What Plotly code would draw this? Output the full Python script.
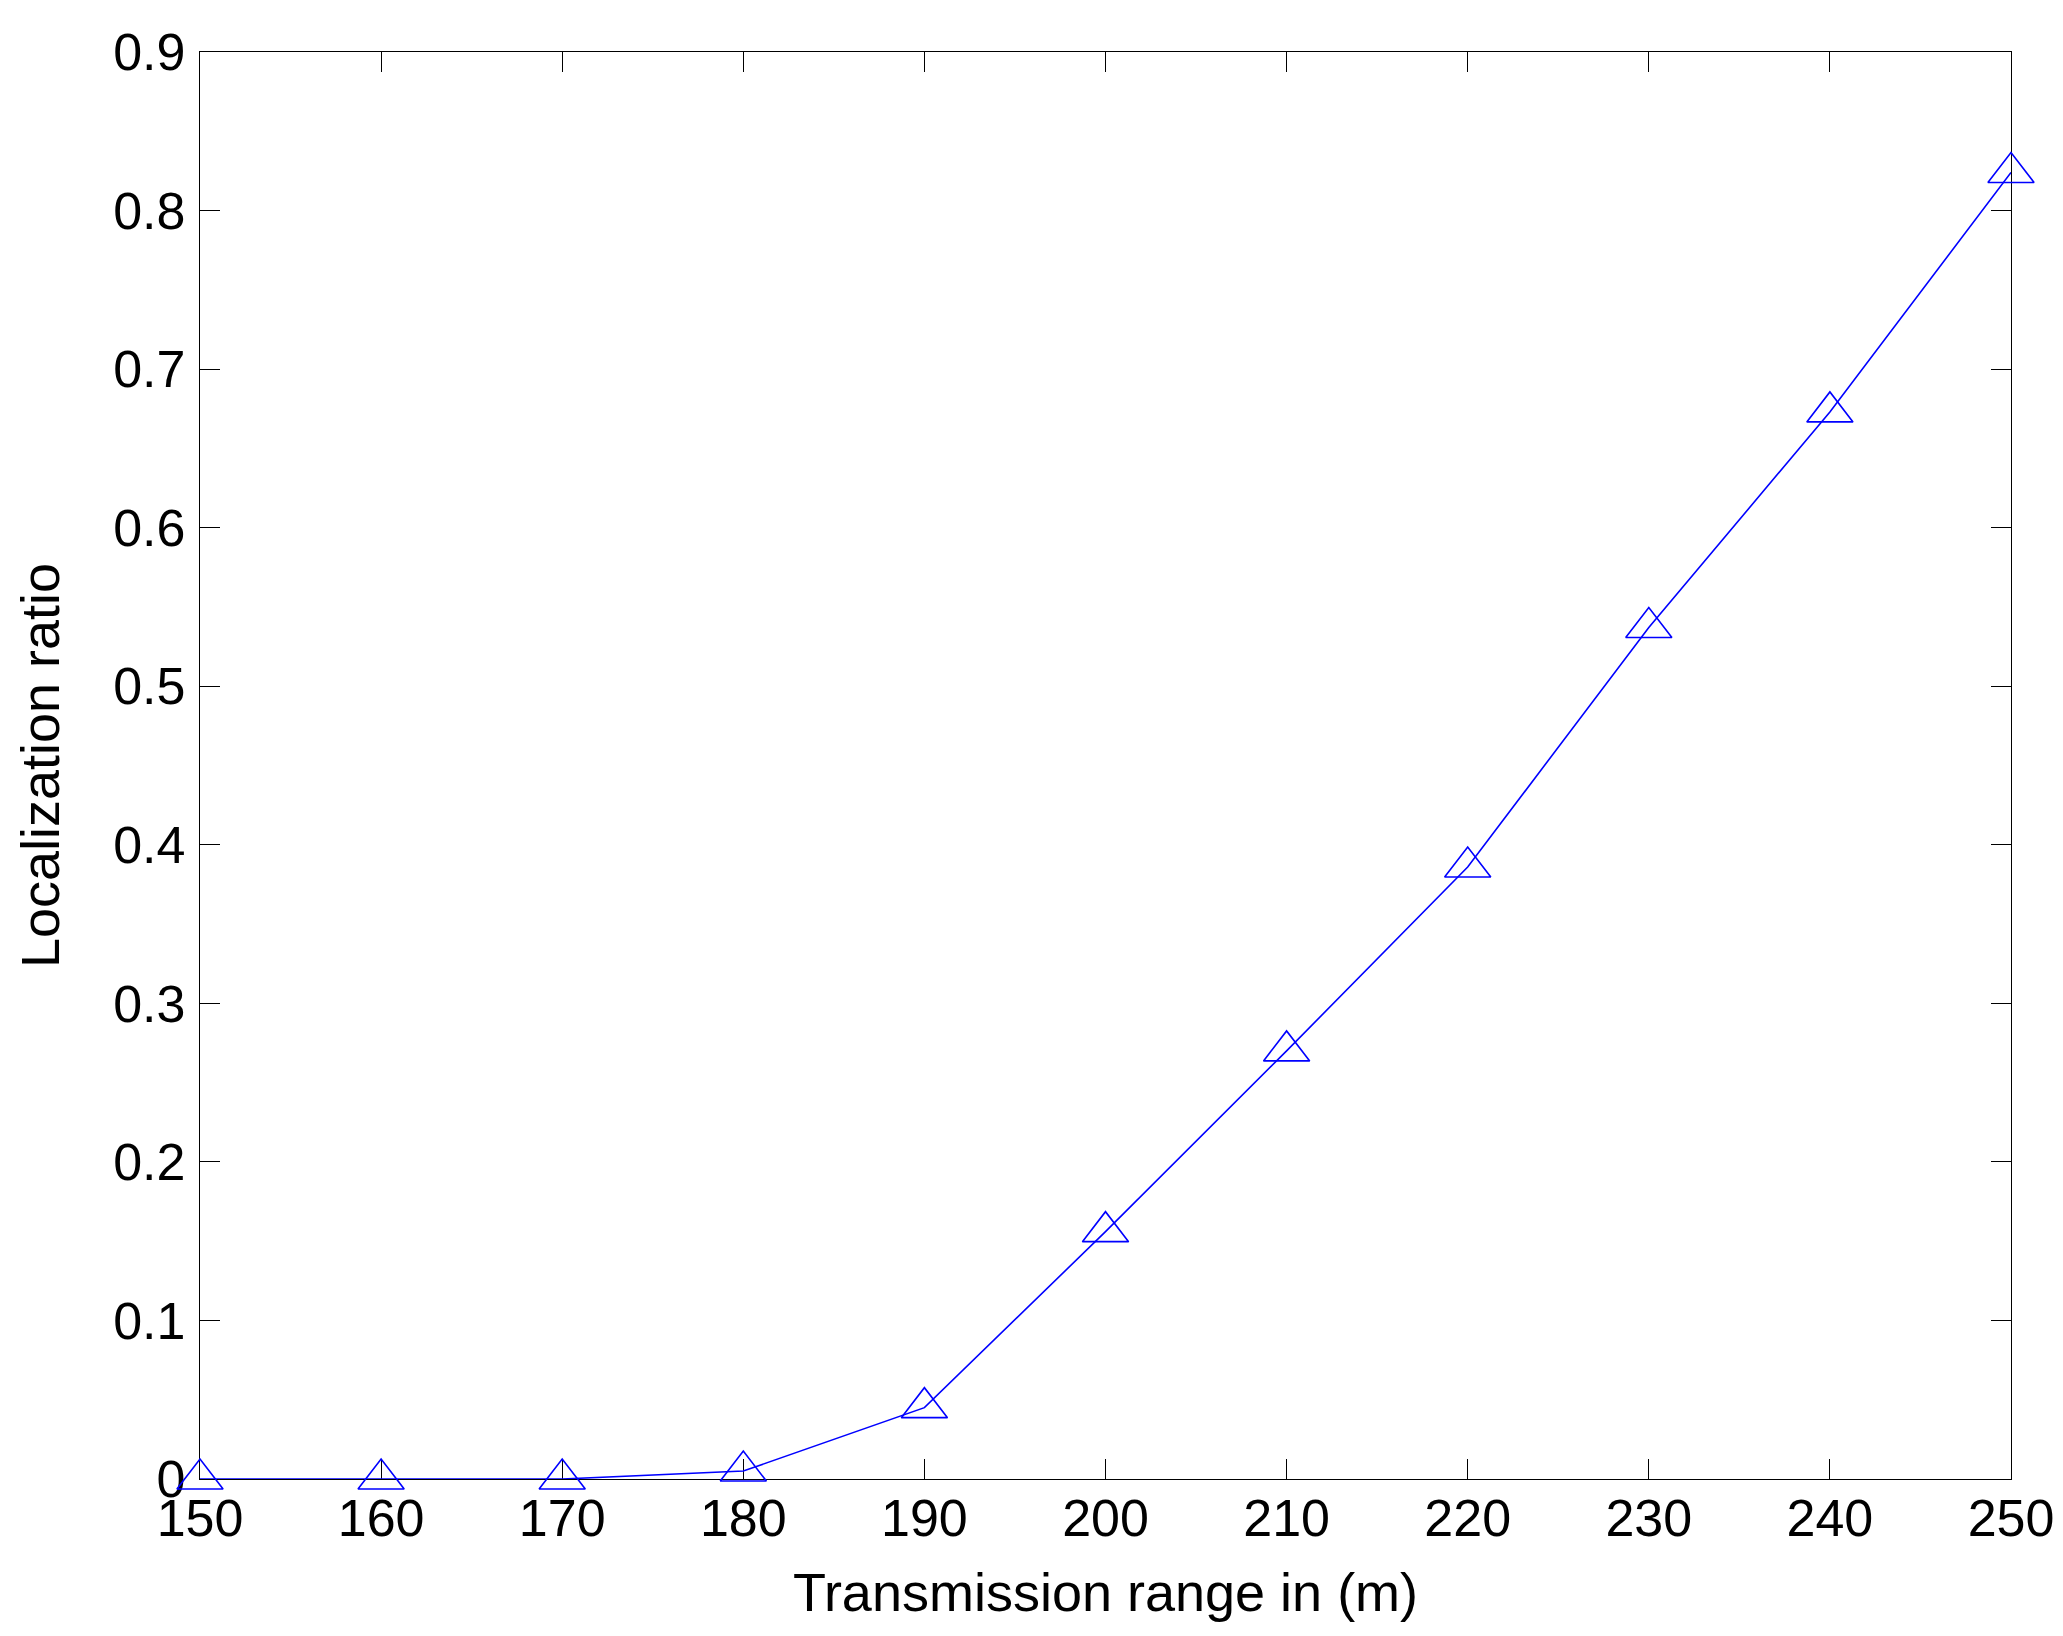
import plotly.graph_objects as go

transmission_range = [150, 160, 170, 180, 190, 200, 210, 220, 230, 240, 250]
localization_ratio = [0.0, 0.0, 0.0, 0.005, 0.045, 0.156, 0.270, 0.386, 0.537, 0.673, 0.824]
y_ticks = [0, 0.1, 0.2, 0.3, 0.4, 0.5, 0.6, 0.7, 0.8, 0.9]
x_ticks = [150, 160, 170, 180, 190, 200, 210, 220, 230, 240, 250]

FONT = "Liberation Sans, Arial, Helvetica, sans-serif"

fig = go.Figure()
fig.add_trace(go.Scatter(
    x=transmission_range,
    y=localization_ratio,
    mode="lines+markers",
    line=dict(color="#0000FF", width=1.6),
    marker=dict(symbol="triangle-up-open", size=40, color="#0000FF",
                line=dict(color="#0000FF", width=1.6)),
    cliponaxis=False,
    showlegend=False,
))

axis_common = dict(
    showline=True, linecolor="black", linewidth=1.3, mirror="ticks",
    ticks="inside", ticklen=20, tickwidth=1.2, tickcolor="black",
    showgrid=False, zeroline=False, layer="below traces", automargin=False,
    tickfont=dict(family=FONT, size=52, color="black"),
)

fig.update_xaxes(
    range=[150, 250], tickvals=x_ticks, ticktext=[str(v) for v in x_ticks],
    title=dict(text="Transmission range in (m)", font=dict(family=FONT, size=54, color="black"), standoff=27),
    ticklabelstandoff=-7,
    **axis_common,
)
fig.update_yaxes(
    range=[0, 0.9], tickvals=y_ticks, ticktext=[("0" if v == 0 else f"{v:g}") for v in y_ticks],
    title=dict(text="Localization ratio", font=dict(family=FONT, size=54, color="black"), standoff=36),
    ticklabelstandoff=3,
    **axis_common,
)

fig.update_layout(
    width=2063, height=1636,
    margin=dict(l=200, r=52, t=52, b=157, pad=0),
    paper_bgcolor="white", plot_bgcolor="white",
    font=dict(family=FONT, color="black"),
)

fig.write_html(
    "out.html",
    config={"displayModeBar": False},
    post_script="document.body.style.margin='0';document.body.style.overflow='hidden';",
)
